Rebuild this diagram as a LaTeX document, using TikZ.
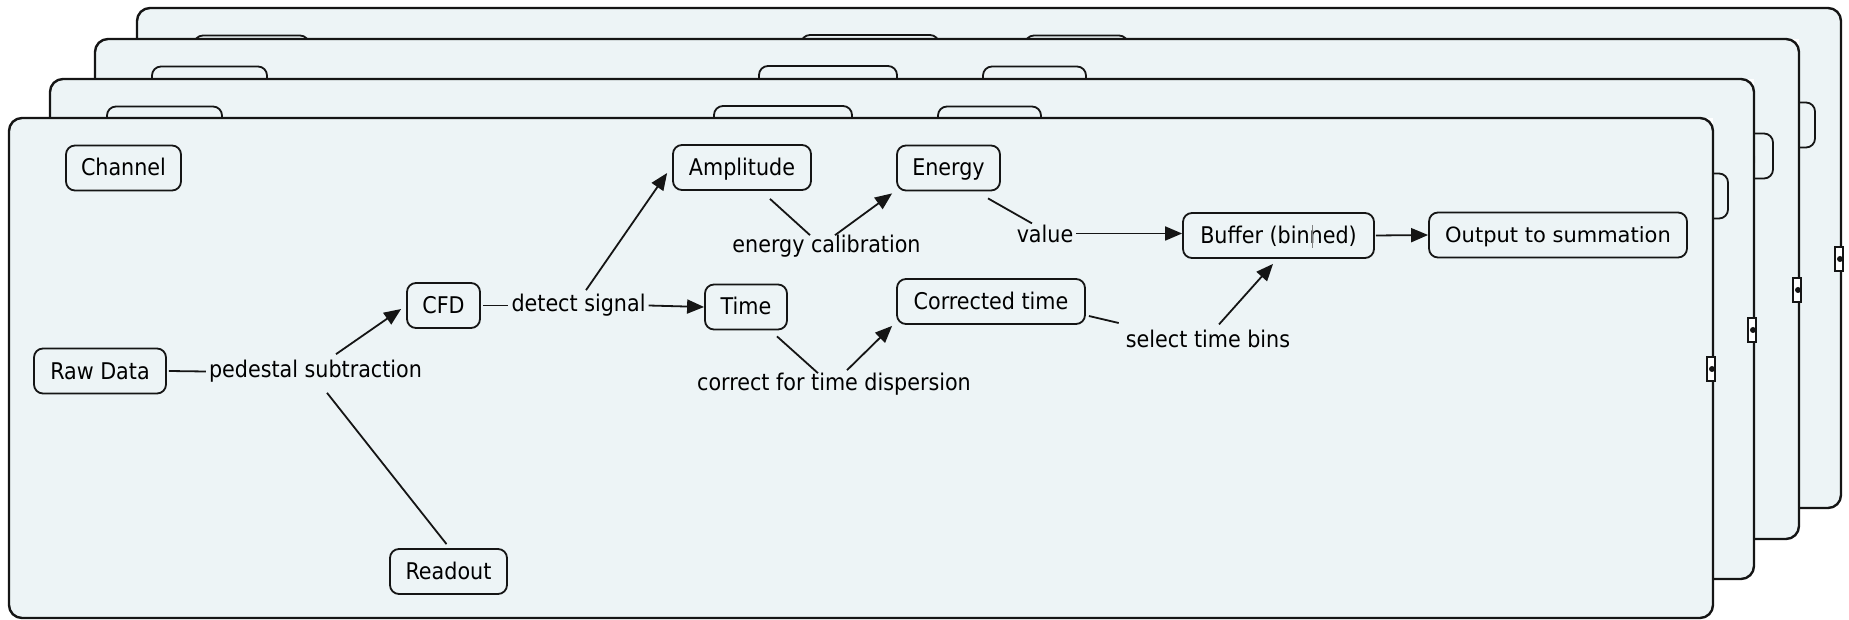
\documentclass[tikz,border=0pt]{standalone}
\usepackage{fontspec}
\newfontfamily\condf{DejaVu Sans Condensed}
\newfontfamily\regf{DejaVu Sans}
\usetikzlibrary{arrows.meta}
\definecolor{panelfill}{HTML}{EDF4F6}
\definecolor{ink}{HTML}{151515}
\tikzset{
  box/.style={draw=ink, line width=1.8pt, rounded corners=9pt, fill=panelfill,
    minimum height=45pt, inner sep=2pt, text height=21pt, text depth=5pt,
    font=\condf\fontsize{23}{27}\selectfont},
  lbl/.style={inner sep=3pt, font=\condf\fontsize{23}{27}\selectfont},
  conn/.style={draw=ink, line width=1.8pt},
  arr/.style={conn, -{Triangle[length=17pt,width=14pt]}},
  panel/.style={draw=ink, line width=2.4pt, rounded corners=13pt, fill=panelfill},
  handle/.style={draw=ink, line width=1.8pt, fill=white},
}
\newcommand\panelbody{%
  \fill[white] (9,1) rectangle (1713,501);
  \path[panel] (9,1) rectangle (1713,501);
  \node[box, minimum width=115pt] (ch) at (123.5,451) {Channel};
  \node[box, minimum width=138pt] (amp) at (742,451.5) {Amplitude};
  \node[box, minimum width=103pt] (en) at (948.5,451) {Energy};
  \node[box, minimum width=191pt] (buf) at (1278.5,383.5) {Buffer (binned)};
  \node[box, minimum width=258pt, font=\regf\fontsize{21}{25}\selectfont] (out) at (1558,384) {Output to summation};
  \node[box, minimum width=73pt] (cfd) at (443.5,313.5) {CFD};
  \node[box, minimum width=82pt] (time) at (746,312) {Time};
  \node[box, minimum width=188pt] (corr) at (991,317.5) {Corrected time};
  \node[box, minimum width=132pt] (raw) at (100,248) {Raw Data};
  \node[box, minimum width=117pt] (rd) at (448.5,47.5) {Readout};
  \node[lbl] (ds) at (578.5,313.5) {detect signal};
  \node[lbl] (ec) at (826.5,372.5) {energy calibration};
  \node[lbl] (val) at (1045,385.5) {value};
  \node[lbl] (ps) at (315.5,247.5) {pedestal subtraction};
  \node[lbl] (ctd) at (834,234.5) {correct for time dispersion};
  \node[lbl] (stb) at (1208,280.5) {select time bins};
  \draw[conn] ([xshift=2pt]raw.east) -- (ps.west);
  \draw[conn] ([shift={(-2pt,4pt)}]rd.north) -- ([shift={(11.5pt,-7pt)}]ps.south);
  \draw[arr] ([shift={(20.5pt,3pt)}]ps.north) -- ([shift={(-5pt,-3.5pt)}]cfd.west);
  \draw[conn] ([xshift=2pt]cfd.east) -- (ds.west);
  \draw[arr] (ds.east) -- (time.west);
  \draw[arr] ([shift={(7.5pt,1pt)}]ds.north) -- ([shift={(-5pt,-5.5pt)}]amp.west);
  \draw[conn] ([shift={(28pt,-8pt)}]amp.south) -- ([shift={(-16.5pt,-3pt)}]ec.north);
  \draw[arr] ([shift={(8.5pt,-3pt)}]ec.north) -- ([shift={(-4pt,-2pt)}]en.south west);
  \draw[conn] ([shift={(39.5pt,-7pt)}]en.south) -- ([shift={(-13pt,-2pt)}]val.north);
  \draw[arr] (val.east) -- (val.east -| buf.west);
  \draw[arr] ([xshift=1pt]buf.east) -- (out.west);
  \draw[conn] ([shift={(31pt,-6pt)}]time.south) -- ([shift={(-16pt,-3pt)}]ctd.north);
  \draw[arr] ([shift={(13pt,0pt)}]ctd.north) -- ([shift={(-4pt,-1pt)}]corr.south west);
  \draw[conn] ([shift={(3pt,-14.5pt)}]corr.east) -- ([shift={(-4pt,15.5pt)}]stb.west);
  \draw[arr] ([shift={(11pt,2pt)}]stb.north) -- ([shift={(-5.5pt,-5pt)}]buf.south);
  \path[handle] (1707,238) rectangle (1715,262);
  \fill[ink] (1712,250) circle (3);
}
\begin{document}
\begin{tikzpicture}[x=1pt,y=1pt]
  \useasboundingbox (0,0) rectangle (1849,619);
  \begin{scope}[shift={(128,110)}, name prefix=p4-]\panelbody\end{scope}
  \begin{scope}[shift={(86,79)}, name prefix=p3-]\panelbody\end{scope}
  \begin{scope}[shift={(41,39)}, name prefix=p2-]\panelbody\end{scope}
  \begin{scope}\panelbody\end{scope}
  \draw[gray, line width=1pt] (1312,394) -- (1312,371);
\end{tikzpicture}
\end{document}
